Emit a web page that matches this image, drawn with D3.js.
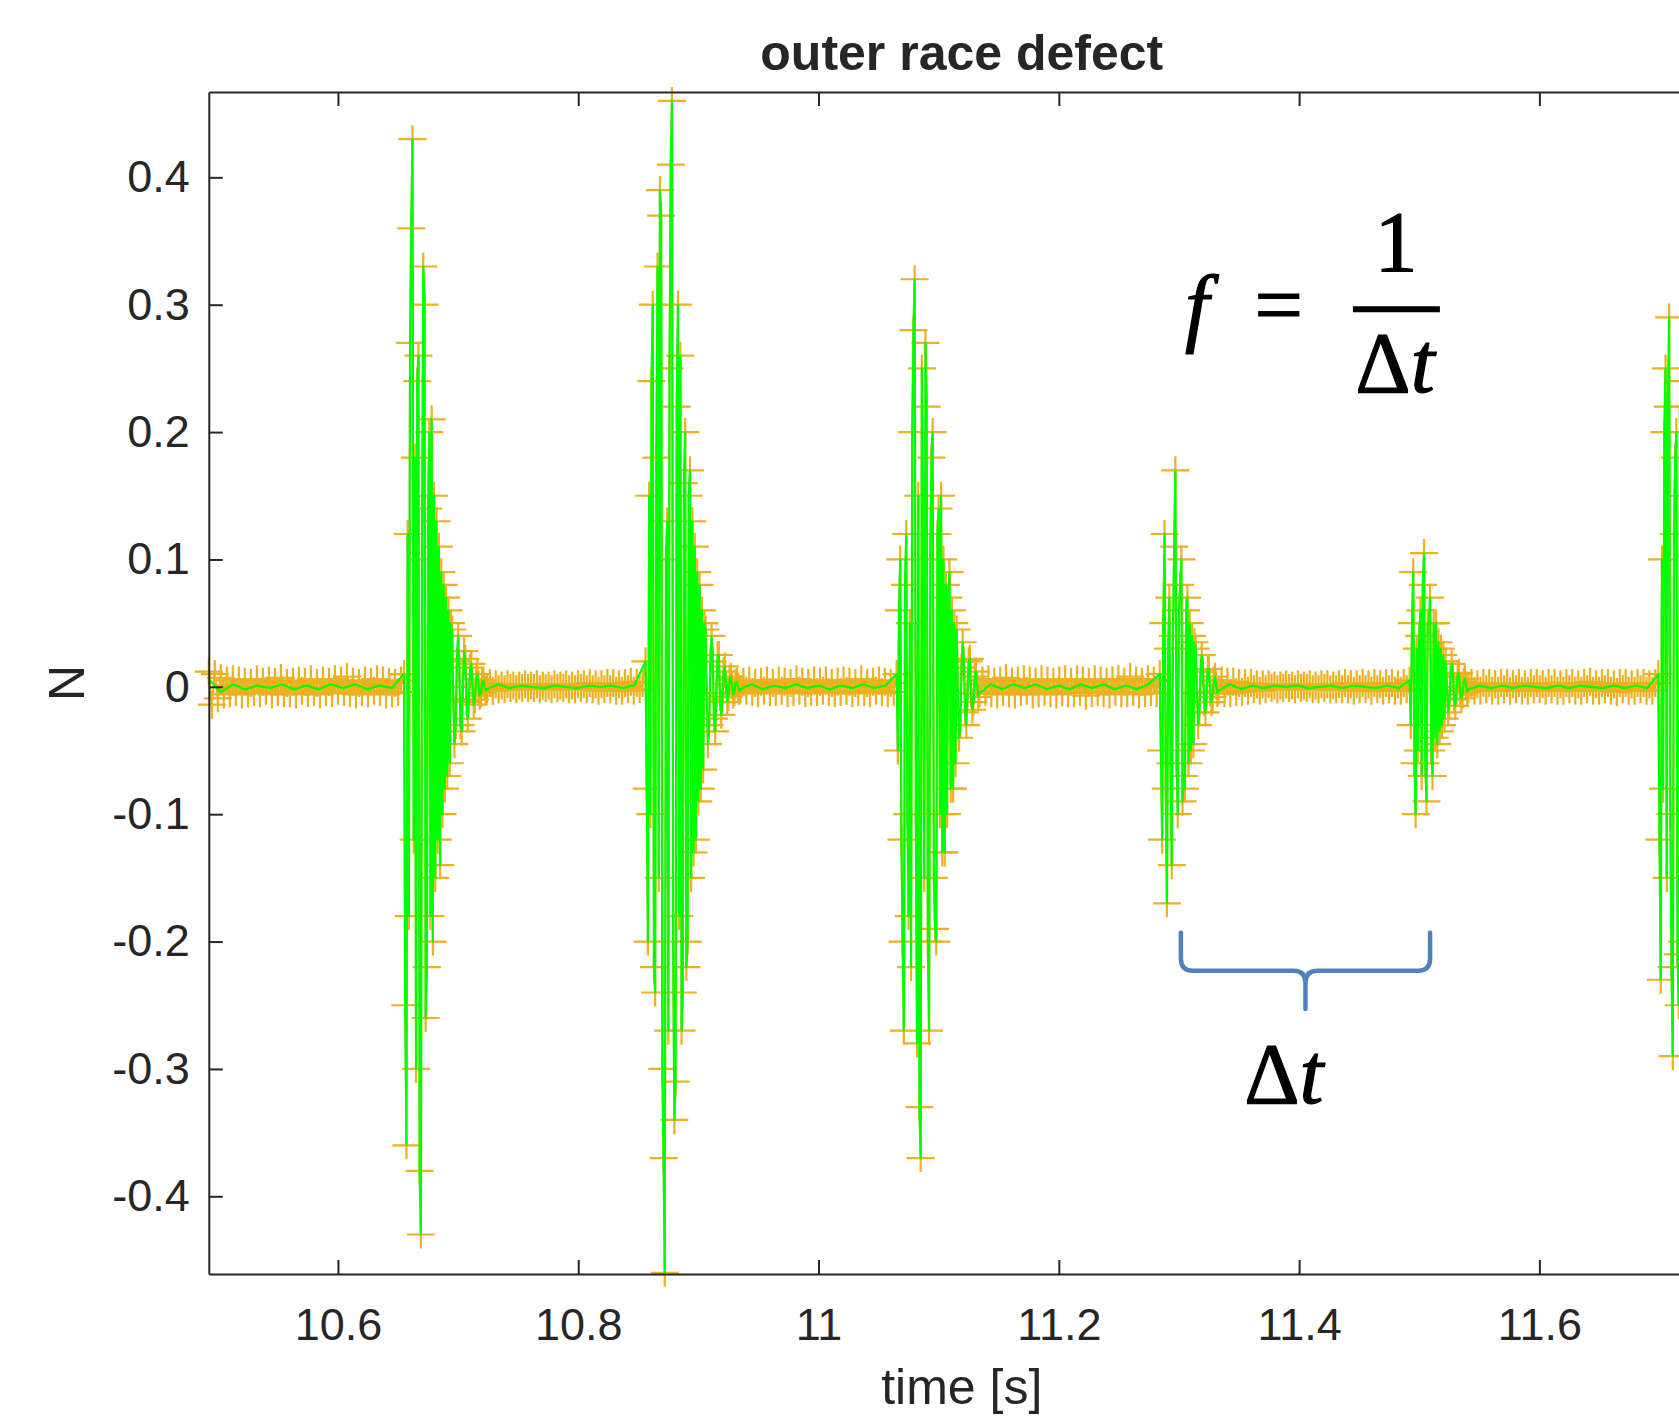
<!DOCTYPE html>
<html>
<head>
<meta charset="utf-8">
<script src="https://cdn.jsdelivr.net/npm/d3@7"></script>
<style>
  body { margin: 0; background: #fff; }
  text { font-family: "Liberation Sans", Arial, Helvetica, sans-serif; fill: #262626; }
</style>
</head>
<body>
<svg id="chart" width="1679" height="1416"></svg>
<script>
// axis setup
const xDomain = [10.4925, 11.746];
const yDomain = [-0.461, 0.467];
const xTicks = [10.6, 10.8, 11, 11.2, 11.4, 11.6];
const xTickLabels = ["10.6", "10.8", "11", "11.2", "11.4", "11.6"];
const yTicks = [-0.4, -0.3, -0.2, -0.1, 0, 0.1, 0.2, 0.3, 0.4];
const yTickLabels = ["-0.4", "-0.3", "-0.2", "-0.1", "0", "0.1", "0.2", "0.3", "0.4"];

// impacts: start time of each burst [s], samples every burstStep [s], force [N]
const burstStep = 0.001;
const burstStart = [10.655, 10.856, 11.065, 11.284, 11.492, 11.699];
const burst1 = [.01, -.25, -.36, .12, -.18, .27, .36, .43, -.12, .18,
    -.30, .24, .26, -.38, -.43, .10, .33, .30, -.26, -.22,
    .14, .20, -.18, .21, -.20, .15, -.15, .13, -.12, .11,
    -.14, .09, -.10, .08, -.08, .07, -.07, .06, -.06, .05,
    .045, -.01, -.045, -.03, .02, .04, .015, -.03, -.035, 0,
    .028, .022, -.012, -.025, -.01, .015, .018, 0, -.014, -.01,
    .006, .01, .002, -.007, -.005, .003, .005, 0, -.003, -.002];
const burst2 = [.02, -.08, -.20, .15, -.10, .24, .30, -.22, -.24, .18,
    .33, -.15, .39, .37, -.30, -.37, -.46, .10, .13, -.27,
    .25, .41, .46, -.20, -.34, -.31, .22, .30, -.18, .26,
    -.27, -.24, .16, .20, -.22, -.20, .15, .17, -.15, .13,
    -.13, .11, -.12, .09, -.09, .08, -.08, .06, -.065, .05,
    .045, -.01, -.045, -.03, .02, .04, .02, -.025, -.035, -.005,
    .025, .025, -.008, -.022, -.012, .012, .016, .002, -.012, -.008,
    .006, .008, .001, -.006, -.004, .003, .004, 0, -.003, -.002];
const burst3 = [.01, -.05, .06, .10, -.12, -.20, -.27, .08, .12, -.10,
    -.18, .05, -.22, .20, .28, .32, -.10, -.28, .15, -.33,
    -.37, .25, .12, -.15, .27, .22, -.20, -.27, .10, .18,
    .20, -.15, -.19, -.20, .12, .14, -.10, .15, -.13, .10,
    -.13, .08, -.10, .07, .09, -.08, .06, -.08, .05, -.06,
    .045, -.005, -.04, -.03, .015, .035, .02, -.02, -.03, -.005,
    .02, .022, -.005, -.018, -.012, .008, .012, .002, -.008, -.005];
const burst4 = [.01, -.05, -.12, .05, .12, -.08, -.17, .03, .07, -.06,
    -.14, .04, .11, .17, -.06, -.10, .06, .08, .10, -.09,
    -.07, -.08, .06, .07, -.06, .05, -.05, .04, -.045, .035,
    .03, -.005, -.03, -.02, .012, .025, .012, -.012, -.02, -.004,
    .014, .014, -.004, -.012, -.008, .005, .008, .001, -.005, -.003];
const burst5 = [.005, -.03, .05, .09, -.06, -.10, .03, -.05, .04, .06,
    -.07, .08, .105, -.06, -.09, .05, .05, .07, -.05, -.07,
    .05, -.04, .05, -.045, .035, -.035, .03, -.03, .025, -.025,
    .02, 0, -.02, -.015, .008, .018, .01, -.01, -.015, -.003,
    .01, .011, -.003, -.009, -.006, .004, .006, .001, -.004, -.002];
const burst6 = [.01, -.12, -.23, .10, -.08, .20, .25, -.15, .22, .29,
    -.10, -.22, -.29, .12, .18, .20, -.21, -.25, .22, .24,
    -.20, .15];

// quiet stretches before each burst: raw samples (orange, + markers)
const quietRaw0 = [.012, -.014, .01, -.009, .007, -.006, .005, -.005, .006, -.004,
    .005, -.006, .004, -.005, .003, -.004, .006, -.005, .004, -.003,
    .005, -.006, .004, -.004, .007, -.005, .003, -.005, .004, -.006,
    .005, -.003, .004, -.005, .006, -.004, .003, -.006, .005, -.004,
    .004, -.005, .006, -.003, .005, -.004, .008, -.005, .004, -.006,
    .003, -.004, .005, -.005, .004, -.003, .006, -.004, .005, -.006,
    .004, -.005, .003, -.004, .005];
const quietRaw1 = [.003, -.003, .002, -.002, .001, -.002, .002, -.001, .001, -.002,
    .001, -.001, .002, -.001, .001, -.001, .002, -.002, .001, -.001,
    .001, -.002, .002, -.001, .001, -.001, .002, -.002, .001, -.002,
    .002, -.001, .002, -.002, .003, -.002, .002, -.003, .002, -.002,
    .003, -.002, .003, -.003, .002, -.003, .003, -.002, .004, -.003,
    .003, -.002, .003];
const quietRaw2 = [.004, -.003, .005, -.004, .003, -.005, .004, -.003, .005, -.004,
    .003, -.004, .005, -.003, .004, -.005, .003, -.004, .006, -.003,
    .004, -.005, .003, -.004, .005, -.004, .004, -.003, .005, -.004,
    .003, -.005, .004, -.004, .005, -.003, .004, -.005, .003, -.004,
    .006, -.004, .003, -.005, .004, -.003, .005, -.004, .004, -.005,
    .003, -.004];
const quietRaw3 = [.005, -.004, .006, -.005, .004, -.006, .005, -.004, .007, -.005,
    .004, -.006, .005, -.004, .006, -.003, .005, -.006, .004, -.005,
    .006, -.004, .005, -.005, .004, -.006, .005, -.004, .006, -.005,
    .004, -.005, .006, -.004, .005, -.007, .004, -.005, .006, -.004,
    .005, -.005, .004, -.006, .005, -.004, .006, -.005, .004, -.005,
    .008, -.004, .005, -.006, .004, -.005, .006, -.004, .005, -.005];
const quietRaw4 = [.005, -.005, .004, -.005, .004, -.004, .003, -.004, .003, -.003,
    .003, -.002, .002, -.003, .002, -.002, .002, -.001, .001, -.002,
    .001, -.001, .002, -.001, .001, -.002, .002, -.001, .001, -.001,
    .002, -.002, .001, -.002, .002, -.001, .002, -.002, .001, -.002,
    .002, -.002, .003, -.002, .002, -.003, .002, -.002, .003, -.002,
    .002, -.003, .003, -.002, .002, -.003, .003, -.002, .003, -.003,
    .002, -.003, .003, -.002];
const quietRaw5 = [.003, -.003, .002, -.003, .003, -.002, .003, -.003, .002, -.003,
    .003, -.002, .003, -.003, .002, -.002, .003, -.003, .002, -.003,
    .003, -.002, .003, -.002, .002, -.003, .003, -.002, .003, -.003,
    .002, -.003, .003, -.002, .003, -.003, .002, -.003, .003, -.002,
    .004, -.003, .002, -.003, .003, -.002, .003, -.003, .002, -.004,
    .003, -.002, .003, -.003, .002, -.003, .003, -.002, .003, -.003,
    .002, -.003, .003];
// quiet stretches of the filtered trace (green)
const quietFilt0 = [.006, -.004, .002, -.002, .001, -.001, .002, -.002, .001, -.002, .002, -.001, .002, -.002, .001, -.001];
const quietFilt1 = [.002, -.001, .001, 0, -.001, .001, 0, -.001, .001, 0, .001, -.001, .001];
const quietFilt2 = [.002, -.002, .001, -.001, .002, -.001, .001, -.002, .001, -.001, .002, -.001, .001];
const quietFilt3 = [.002, -.002, .002, -.001, .002, -.002, .001, -.002, .002, -.001, .002, -.002, .001, -.002, .002];
const quietFilt4 = [.002, -.002, .001, -.001, .001, 0, .001, -.001, 0, .001, -.001, .001, 0, -.001, .001, -.001];
const quietFilt5 = [.001, -.001, .001, -.001, .001, 0, -.001, .001, -.001, .001, 0, -.001, .001, -.001, .001, -.001];

// annotation (data coordinates)
const braceT = [11.3016, 11.509];
const braceV = [-0.193, -0.223, -0.253]; // ends, bar, tip

const bursts = [burst1, burst2, burst3, burst4, burst5, burst6];
const quietRaw = [quietRaw0, quietRaw1, quietRaw2, quietRaw3, quietRaw4, quietRaw5];
const quietFilt = [quietFilt0, quietFilt1, quietFilt2, quietFilt3, quietFilt4, quietFilt5];

const svg = d3.select("#chart");
const plot = { left: 208.8, top: 92, right: 1714.8, bottom: 1274 };
const x = d3.scaleLinear().domain(xDomain).range([plot.left, plot.right]);
const y = d3.scaleLinear().domain(yDomain).range([plot.bottom, plot.top]);

// join quiet stretches and bursts into one time series
function buildSeries(quiet) {
    const pts = [];
    let from = xDomain[0];
    bursts.forEach((b, i) => {
        const q = quiet[i], to = burstStart[i];
        const first = i === 0 ? 0 : 1; // first stretch starts right at the axis
        const step = (to - from) / (q.length + first);
        q.forEach((v, j) => pts.push([from + (j + first) * step, v]));
        b.forEach((v, k) => pts.push([to + k * burstStep, v]));
        from = to + (b.length - 1) * burstStep;
    });
    return pts;
}
const raw = buildSeries(quietRaw);
const filt = buildSeries(quietFilt);

svg.append("rect").attr("width", 1679).attr("height", 1416).attr("fill", "#fff");

svg.append("defs").append("clipPath").attr("id", "plotClip")
    .append("rect")
    .attr("x", plot.left).attr("y", plot.top)
    .attr("width", plot.right - plot.left).attr("height", plot.bottom - plot.top);

const line = d3.line().x(d => x(d[0])).y(d => y(d[1]));

// raw signal: orange line with + markers
svg.append("path").datum(raw)
    .attr("clip-path", "url(#plotClip)")
    .attr("d", line).attr("fill", "none")
    .attr("stroke", "#EDB120").attr("stroke-width", 2);

svg.append("g").attr("class", "markers")
    .attr("stroke", "#EDB120").attr("stroke-width", 2.2).attr("fill", "none")
    .selectAll("path").data(raw).join("path")
    .attr("d", d => `M${x(d[0]) - 14},${y(d[1])}h28M${x(d[0])},${y(d[1]) - 14}v28`);

// filtered signal on top
svg.append("path").datum(filt)
    .attr("clip-path", "url(#plotClip)")
    .attr("d", line).attr("fill", "none")
    .attr("stroke", "#00FF00").attr("stroke-width", 2.2)
    .attr("stroke-linejoin", "round");

// axes, MATLAB style: ticks inside, box lines
function styleAxis(g) {
    g.attr("font-family", null).attr("font-size", null);
    g.selectAll(".domain").attr("stroke", "#262626").attr("stroke-width", 2);
    g.selectAll(".tick line").attr("stroke", "#262626").attr("stroke-width", 2);
    g.selectAll(".tick text").attr("font-size", 45).attr("fill", "#262626");
}

svg.append("g")
    .attr("transform", `translate(0,${plot.bottom})`)
    .call(d3.axisBottom(x).tickValues(xTicks).tickFormat((d, i) => xTickLabels[i])
        .tickSizeInner(-14).tickSizeOuter(0).tickPadding(34))
    .call(styleAxis);

svg.append("g")
    .attr("transform", `translate(0,${plot.top})`)
    .call(d3.axisTop(x).tickValues(xTicks).tickFormat("")
        .tickSizeInner(-14).tickSizeOuter(0))
    .call(styleAxis);

svg.append("g")
    .attr("transform", `translate(${plot.left},0)`)
    .call(d3.axisLeft(y).tickValues(yTicks).tickFormat((d, i) => yTickLabels[i])
        .tickSizeInner(-14).tickSizeOuter(0).tickPadding(19))
    .call(styleAxis);

// labels
const midX = (plot.left + plot.right) / 2;
svg.append("text").attr("x", midX).attr("y", 70)
    .attr("text-anchor", "middle").attr("font-size", 50).attr("font-weight", "bold")
    .text("outer race defect");

svg.append("text").attr("x", midX).attr("y", 1404)
    .attr("text-anchor", "middle").attr("font-size", 50)
    .text("time [s]");

svg.append("text")
    .attr("transform", `translate(84,${(plot.top + plot.bottom) / 2}) rotate(-90)`)
    .attr("text-anchor", "middle").attr("font-size", 50)
    .text("N");

// formula f = 1 / Δt
const math = svg.append("g").style("font-family", '"Liberation Serif", "Times New Roman", serif')
    .attr("font-size", 86);

function mathText(tx, ty) {
    return math.append("text").attr("x", x(tx)).attr("y", y(ty))
        .attr("text-anchor", "middle").style("font-family", "inherit")
        .style("fill", "#000").attr("stroke", "#000").attr("stroke-width", 1.2);
}
mathText(11.315, 0.276).attr("font-style", "italic").text("f");
mathText(11.383, 0.277).text("=");
mathText(11.4806, 0.3264).text("1");
math.append("line")
    .attr("x1", x(11.4448)).attr("x2", x(11.5172))
    .attr("y1", y(0.2965)).attr("y2", y(0.2965))
    .attr("stroke", "#000").attr("stroke-width", 6);

function deltaT(tx, ty) {
    const t = mathText(tx, ty);
    t.append("tspan").text("Δ");
    t.append("tspan").attr("font-style", "italic").text("t");
}
deltaT(11.4798, 0.2313);
deltaT(11.3873, -0.3264);

// curly brace spanning one impact period
const bx0 = x(braceT[0]), bx1 = x(braceT[1]), bxm = (bx0 + bx1) / 2;
const byTop = y(braceV[0]), byBar = y(braceV[1]), byTip = y(braceV[2]);
const r = 12;
const brace = d3.path();
brace.moveTo(bx0, byTop);
brace.lineTo(bx0, byBar - r);
brace.quadraticCurveTo(bx0, byBar, bx0 + r, byBar);
brace.lineTo(bxm - r, byBar);
brace.quadraticCurveTo(bxm, byBar, bxm, byBar + r);
brace.lineTo(bxm, byTip);
brace.moveTo(bx1, byTop);
brace.lineTo(bx1, byBar - r);
brace.quadraticCurveTo(bx1, byBar, bx1 - r, byBar);
brace.lineTo(bxm + r, byBar);
brace.quadraticCurveTo(bxm, byBar, bxm, byBar + r);
svg.append("path").attr("d", brace.toString())
    .attr("fill", "none").attr("stroke", "#4F81BD").attr("stroke-width", 4.5)
    .attr("stroke-linecap", "round").attr("stroke-linejoin", "round");
</script>
</body>
</html>
